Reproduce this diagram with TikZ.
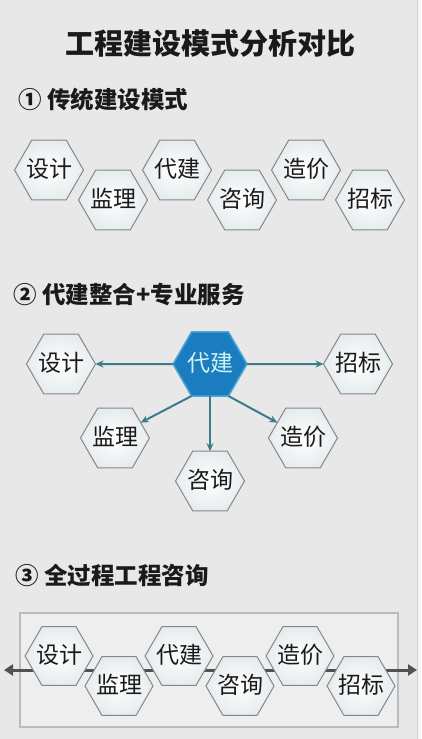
\documentclass[tikz,border=0pt]{standalone}
\usepackage{fontspec}
\setmainfont{Noto Sans CJK SC}
\usetikzlibrary{shapes.geometric,arrows.meta}
\definecolor{bgc}{HTML}{E8E8E9}
\definecolor{hexline}{HTML}{85878A}
\definecolor{hexout}{HTML}{E6ECEE}
\definecolor{txt}{HTML}{1A1A1A}
\definecolor{blueF}{HTML}{1B7DBF}
\definecolor{blueD}{HTML}{4CA8D8}
\definecolor{blueT}{HTML}{CFF3F3}
\definecolor{teal}{HTML}{3B7B8A}
\definecolor{darkline}{HTML}{505153}
\definecolor{framec}{HTML}{B8BCC0}
\tikzset{
  hexbox/.style={regular polygon, regular polygon sides=6, minimum size=69pt,
    inner sep=-12pt, outer sep=0pt, draw=hexline, line width=1pt,
    text height=18pt, text depth=2.5pt,
    inner color=white, outer color=hexout, text=txt, font=\fontsize{23}{23}\selectfont},
  hexsmall/.style={hexbox, minimum size=68pt},
  hexblue/.style={regular polygon, regular polygon sides=6, minimum size=74pt,
    inner sep=-12pt, outer sep=0pt, draw=blueD, line width=1.5pt, fill=blueF,
    text height=18pt, text depth=2.5pt,
    text=blueT, font=\fontsize{23}{23}\selectfont},
  head/.style={anchor=west, text=txt, font=\fontsize{23.5}{23.5}\selectfont\bfseries},
  arr/.style={draw=teal, line width=2pt, -{Stealth[length=8pt,width=7pt]}},
  tline/.style={draw=darkline, line width=3pt, {Triangle[length=9pt,width=11pt]}-{Triangle[length=9pt,width=11pt]}}
}
\begin{document}
\begin{tikzpicture}[x=1pt,y=-1pt]
\useasboundingbox (0,0) rectangle (421,739);
\fill[bgc] (0,0) rectangle (421,739);
\fill[white!60!bgc] (418,0) rectangle (421,739);
\draw[color=gray!35, line width=0.8pt] (417,0) -- (417,739);

% Title
\node[text=txt, font=\fontsize{29}{29}\selectfont\bfseries] (title) at (210,43) {工程建设模式分析对比};

% Section 1
\node[head] (h1) at (15,100) {① 传统建设模式};
\node[hexbox] (a1) at (49,170) {设计};
\node[hexbox] (a2) at (113,200) {监理};
\node[hexbox] (a3) at (177,170) {代建};
\node[hexbox] (a4) at (242,200) {咨询};
\node[hexbox] (a5) at (306,170) {造价};
\node[hexbox] (a6) at (370,200) {招标};

% Section 2
\node[head] (h2) at (10,295) {② 代建整合+专业服务};
\node[hexblue] (dj) at (210,364) {代建};
\node[hexbox] (b1) at (61,364) {设计};
\node[hexbox] (b6) at (358,364) {招标};
\node[hexbox] (b2) at (115,438) {监理};
\node[hexbox] (b4) at (210,481) {咨询};
\node[hexbox] (b5) at (303,438) {造价};
\draw[arr] (dj.180) -- (b1.0);
\draw[arr] (dj.0) -- (b6.180);
\draw[arr] (dj.270) -- (b4.90);
\draw[arr] (dj.240) -- (b2.31);
\draw[arr] (dj.300) -- (b5.149);

% Section 3
\node[head] (h3) at (12,575) {③ 全过程工程咨询};
\node[draw=framec, line width=1.2pt, fill=white!25!bgc, minimum width=378pt, minimum height=114pt, inner sep=0pt] (frame) at (209,670) {};
\coordinate (la) at (4,670);
\coordinate (lb) at (417,670);
\draw[tline] (la) -- (lb);
\node[hexsmall] (c1) at (59,656) {设计};
\node[hexsmall] (c2) at (119,686) {监理};
\node[hexsmall] (c3) at (179,656) {代建};
\node[hexsmall] (c4) at (240,686) {咨询};
\node[hexsmall] (c5) at (300,656) {造价};
\node[hexsmall] (c6) at (361,686) {招标};
\end{tikzpicture}
\end{document}
